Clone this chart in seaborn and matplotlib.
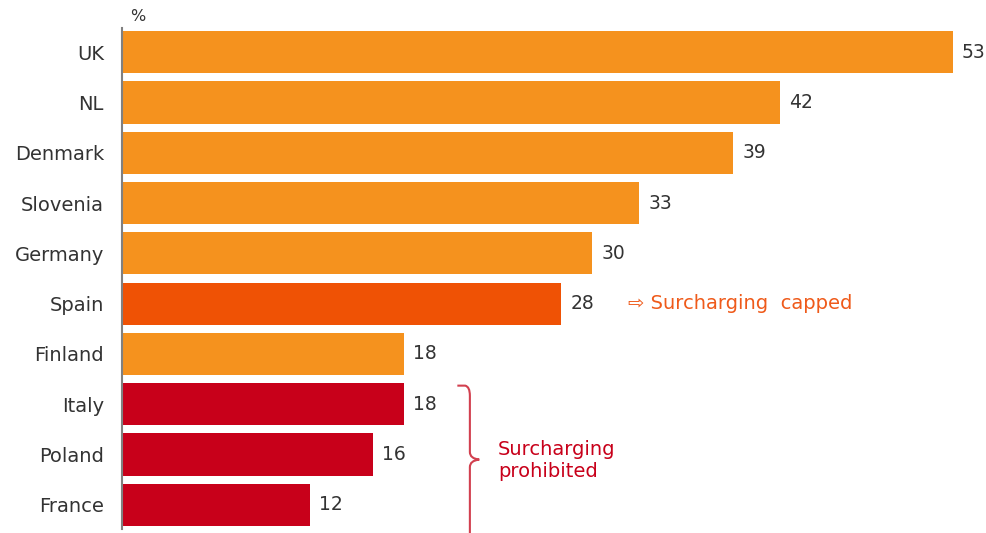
import matplotlib
matplotlib.use("Agg")
import matplotlib.pyplot as plt
from matplotlib.path import Path
from matplotlib.patches import PathPatch
import seaborn as sns
import pandas as pd

countries = ["UK", "NL", "Denmark", "Slovenia", "Germany", "Spain", "Finland", "Italy", "Poland", "France"]
values = [53, 42, 39, 33, 30, 28, 18, 18, 16, 12]
groups = ["free", "free", "free", "free", "free", "capped", "free", "prohibited", "prohibited", "prohibited"]
group_colors = {"free": "#F5921E", "capped": "#EF5205", "prohibited": "#C8001A"}

df = pd.DataFrame({"country": countries, "value": values, "group": groups})

sns.set_style("white")
plt.rcParams["font.family"] = ["DejaVu Sans"]

fig = plt.figure(figsize=(9.87, 5.33), dpi=100)
ax = fig.add_axes([0.1236, 0.0075, 0.8764, 0.94])

sns.barplot(data=df, y="country", x="value", hue="country", orient="h",
            palette=[group_colors[g] for g in groups], dodge=False, legend=False,
            width=0.84, saturation=1, linewidth=0, ax=ax)

ax.set_xlim(0, 55.2)
ax.set_ylim(9.48, -0.48)
ax.set_xlabel("")
ax.set_ylabel("")
ax.set_xticks([])
for s in ["top", "right", "bottom"]:
    ax.spines[s].set_visible(False)
ax.spines["left"].set_color("#808080")
ax.spines["left"].set_linewidth(1.5)
ax.tick_params(axis="y", length=0, pad=13, labelsize=14, labelcolor="#333333")

for i, v in enumerate(values):
    ax.text(v + 0.6, i, f"{v}", va="center", ha="left", fontsize=13.5, color="#333333")

ax.text(0.5, -0.7, "%", fontsize=11.5, color="#333333", ha="left", va="center", clip_on=False)

# Surcharging capped annotation
ax.text(32.3, 5, "\u21e8 Surcharging  capped", fontsize=14, color="#EF5A1A", va="center", ha="left")

# Bracket for prohibited
bx = 22.2
c = "#D2404F"
top = 6.63
mid = 8.1
bot = 10.2
verts = [(21.4, top), (21.9, top), (bx, top + 0.02), (bx, top + 0.2),
         (bx, mid - 0.15), (bx, mid - 0.02), (bx + 0.6, mid),
         (bx, mid + 0.02), (bx, mid + 0.15),
         (bx, bot)]
codes = [Path.MOVETO, Path.LINETO, Path.CURVE3, Path.CURVE3,
         Path.LINETO, Path.CURVE3, Path.CURVE3,
         Path.CURVE3, Path.CURVE3,
         Path.LINETO]
ax.add_patch(PathPatch(Path(verts, codes), fill=False, edgecolor=c, linewidth=1.5, clip_on=False))
ax.text(24.0, 8.12, "Surcharging\nprohibited", fontsize=14, color="#C8001A", va="center", ha="left",
        linespacing=1.15)

fig.savefig("out.png", dpi=100)
